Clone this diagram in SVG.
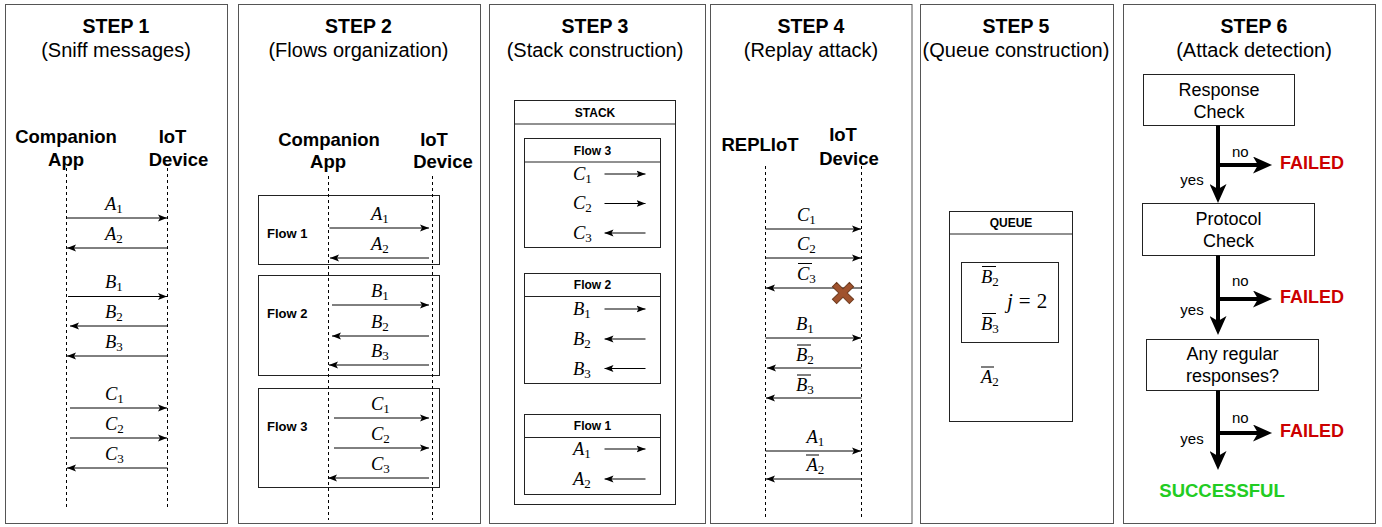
<svg xmlns="http://www.w3.org/2000/svg" width="1382" height="527" viewBox="0 0 1382 527">
<style>
.panel{fill:#fff;stroke:#555;stroke-width:1}
.box{fill:#fff;stroke:#222;stroke-width:1}
.nobox{fill:none;stroke:#222;stroke-width:1}
.t1{font-family:"Liberation Sans",Arial,sans-serif;font-weight:bold;font-size:19.5px;text-anchor:middle;fill:#000}
.t2{font-family:"Liberation Sans",Arial,sans-serif;font-size:20px;text-anchor:middle;fill:#000}
.actor{font-family:"Liberation Sans",Arial,sans-serif;font-weight:bold;font-size:18.5px;text-anchor:middle;fill:#000}
.fl{font-family:"Liberation Sans",Arial,sans-serif;font-weight:bold;font-size:13px;fill:#000}
.hd{font-family:"Liberation Sans",Arial,sans-serif;font-weight:bold;font-size:12px;text-anchor:middle;fill:#000}
.m{font-family:"Liberation Serif","Times New Roman",serif;font-style:italic;font-size:18.5px;fill:#000}
.s{font-style:normal;font-size:13px}
.life{stroke:#000;stroke-width:1;stroke-dasharray:3 3;fill:none}
.msg{stroke:#000;stroke-width:1;fill:none;marker-end:url(#ah)}
.bar{stroke:#000;stroke-width:1}
.bx{font-family:"Liberation Sans",Arial,sans-serif;font-size:18px;text-anchor:middle;fill:#000}
.big{stroke:#000;stroke-width:4;fill:none;marker-end:url(#bh)}
.yn{font-family:"Liberation Sans",Arial,sans-serif;font-size:15px;fill:#000}
.fail{font-family:"Liberation Sans",Arial,sans-serif;font-weight:bold;font-size:18px;fill:#CC0000}
.ok{font-family:"Liberation Sans",Arial,sans-serif;font-weight:bold;font-size:18.5px;fill:#22CC22;text-anchor:middle}
</style>
<defs>
<marker id="ah" markerUnits="userSpaceOnUse" viewBox="0 0 9 8" markerWidth="9" markerHeight="8" refX="9" refY="4" orient="auto"><path d="M0,0.5 L9,4 L0,7.5 L2,4 Z" fill="#000"/></marker>
<marker id="bh" markerUnits="userSpaceOnUse" viewBox="0 0 19 17" markerWidth="19" markerHeight="17" refX="5" refY="8.5" orient="auto"><path d="M0,0 L19,8.5 L0,17 L5,8.5 Z" fill="#000"/></marker>
</defs>

<!-- STEP 1 -->
<g id="step1">
<rect class="panel" x="5.5" y="4.5" width="222" height="519"/>
<text class="t1" x="116" y="33">STEP 1</text>
<text class="t2" x="116" y="57">(Sniff messages)</text>
<text class="actor" x="66" y="143">Companion</text>
<text class="actor" x="66" y="166">App</text>
<text class="actor" x="172.5" y="143">IoT</text>
<text class="actor" x="178.5" y="166">Device</text>
<line class="life" x1="66.5" y1="168" x2="66.5" y2="507"/>
<line class="life" x1="167.5" y1="168" x2="167.5" y2="507"/>
<text class="m" x="105" y="210">A<tspan class="s" dy="3">1</tspan></text>
<text class="m" x="105" y="240">A<tspan class="s" dy="3">2</tspan></text>
<text class="m" x="105" y="288">B<tspan class="s" dy="3">1</tspan></text>
<text class="m" x="105" y="318">B<tspan class="s" dy="3">2</tspan></text>
<text class="m" x="105" y="348">B<tspan class="s" dy="3">3</tspan></text>
<text class="m" x="105" y="400">C<tspan class="s" dy="3">1</tspan></text>
<text class="m" x="105" y="430">C<tspan class="s" dy="3">2</tspan></text>
<text class="m" x="105" y="460">C<tspan class="s" dy="3">3</tspan></text>
</g>

<!-- STEP 2 -->
<g id="step2">
<rect class="panel" x="238.5" y="4.5" width="242" height="519"/>
<text class="t1" x="358.5" y="33">STEP 2</text>
<text class="t2" x="358.5" y="57">(Flows organization)</text>
<text class="actor" x="329" y="146">Companion</text>
<text class="actor" x="328" y="168">App</text>
<text class="actor" x="434" y="146">IoT</text>
<text class="actor" x="443" y="168">Device</text>
<rect class="box" x="258.5" y="195.5" width="181" height="69"/>
<rect class="box" x="258.5" y="275.5" width="181" height="100"/>
<rect class="box" x="258.5" y="388.5" width="181" height="99"/>
<text class="fl" x="267" y="238">Flow 1</text>
<text class="fl" x="267" y="318">Flow 2</text>
<text class="fl" x="267" y="431">Flow 3</text>
<line class="life" x1="328.5" y1="176" x2="328.5" y2="520"/>
<line class="life" x1="432.5" y1="176" x2="432.5" y2="520"/>
<text class="m" x="371" y="220">A<tspan class="s" dy="3">1</tspan></text>
<text class="m" x="371" y="250">A<tspan class="s" dy="3">2</tspan></text>
<text class="m" x="371" y="297">B<tspan class="s" dy="3">1</tspan></text>
<text class="m" x="371" y="328">B<tspan class="s" dy="3">2</tspan></text>
<text class="m" x="371" y="357">B<tspan class="s" dy="3">3</tspan></text>
<text class="m" x="371" y="410">C<tspan class="s" dy="3">1</tspan></text>
<text class="m" x="371" y="440">C<tspan class="s" dy="3">2</tspan></text>
<text class="m" x="371" y="470">C<tspan class="s" dy="3">3</tspan></text>
</g>

<!-- STEP 3 -->
<g id="step3">
<rect class="panel" x="489.5" y="4.5" width="216" height="519"/>
<text class="t1" x="595" y="33">STEP 3</text>
<text class="t2" x="595" y="57">(Stack construction)</text>
<rect class="box" x="514.5" y="100.5" width="161" height="404"/>
<line class="nobox" x1="514.5" y1="124" x2="675.5" y2="124"/>
<text class="hd" x="595" y="116.5">STACK</text>
<rect class="box" x="524.5" y="138.5" width="136" height="109"/>
<line class="nobox" x1="524.5" y1="162" x2="660.5" y2="162"/>
<text class="hd" x="592.5" y="154.5">Flow 3</text>
<text class="m" x="573" y="180">C<tspan class="s" dy="3">1</tspan></text>
<text class="m" x="573" y="209">C<tspan class="s" dy="3">2</tspan></text>
<text class="m" x="573" y="239">C<tspan class="s" dy="3">3</tspan></text>
<rect class="box" x="524.5" y="273.5" width="136" height="110"/>
<line class="nobox" x1="524.5" y1="296.5" x2="660.5" y2="296.5"/>
<text class="hd" x="592.5" y="289">Flow 2</text>
<text class="m" x="573" y="315">B<tspan class="s" dy="3">1</tspan></text>
<text class="m" x="573" y="345">B<tspan class="s" dy="3">2</tspan></text>
<text class="m" x="573" y="374.5">B<tspan class="s" dy="3">3</tspan></text>
<rect class="box" x="524.5" y="414.5" width="136" height="80"/>
<line class="nobox" x1="524.5" y1="437.5" x2="660.5" y2="437.5"/>
<text class="hd" x="592.5" y="430">Flow 1</text>
<text class="m" x="573" y="455">A<tspan class="s" dy="3">1</tspan></text>
<text class="m" x="573" y="485">A<tspan class="s" dy="3">2</tspan></text>
</g>

<!-- STEP 4 -->
<g id="step4">
<rect class="panel" x="710.5" y="4.5" width="201.5" height="519"/>
<text class="t1" x="811" y="33">STEP 4</text>
<text class="t2" x="811" y="57">(Replay attack)</text>
<text class="actor" x="760" y="151">REPLIoT</text>
<text class="actor" x="843" y="141">IoT</text>
<text class="actor" x="849" y="165">Device</text>
<line class="life" x1="765.5" y1="166" x2="765.5" y2="517"/>
<line class="life" x1="861.5" y1="166" x2="861.5" y2="517"/>
<text class="m" x="797" y="221">C<tspan class="s" dy="3">1</tspan></text>
<text class="m" x="797" y="250">C<tspan class="s" dy="3">2</tspan></text>
<text class="m" x="797" y="280">C<tspan class="s" dy="3">3</tspan></text>
<line class="bar" x1="798" y1="263.5" x2="812" y2="263.5"/>
<text class="m" x="796" y="330">B<tspan class="s" dy="3">1</tspan></text>
<text class="m" x="796" y="361">B<tspan class="s" dy="3">2</tspan></text>
<line class="bar" x1="797" y1="345" x2="811" y2="345"/>
<text class="m" x="796" y="391">B<tspan class="s" dy="3">3</tspan></text>
<line class="bar" x1="797" y1="375" x2="811" y2="375"/>
<text class="m" x="806.5" y="443">A<tspan class="s" dy="3">1</tspan></text>
<text class="m" x="806.5" y="471">A<tspan class="s" dy="3">2</tspan></text>
<line class="bar" x1="806" y1="455" x2="819" y2="455"/>
</g>

<!-- STEP 5 -->
<g id="step5">
<rect class="panel" x="920.5" y="4.5" width="193" height="519"/>
<text class="t1" x="1016" y="33">STEP 5</text>
<text class="t2" x="1016" y="57">(Queue construction)</text>
<rect class="box" x="949.5" y="211.5" width="123" height="210"/>
<line class="nobox" x1="949.5" y1="234" x2="1072.5" y2="234"/>
<text class="hd" x="1011" y="227">QUEUE</text>
<rect class="box" x="961.5" y="262.5" width="97" height="80"/>
<text class="m" x="981" y="283">B<tspan class="s" dy="3">2</tspan></text>
<line class="bar" x1="982" y1="266.5" x2="996" y2="266.5"/>
<text class="m" x="1007" y="308" style="font-size:21px">j<tspan style="font-style:normal" dx="6">=</tspan><tspan style="font-style:normal" dx="6">2</tspan></text>
<text class="m" x="981" y="330">B<tspan class="s" dy="3">3</tspan></text>
<line class="bar" x1="982" y1="313.5" x2="996" y2="313.5"/>
<text class="m" x="981" y="383">A<tspan class="s" dy="3">2</tspan></text>
<line class="bar" x1="981" y1="367" x2="994" y2="367"/>
</g>

<!-- STEP 6 -->
<g id="step6">
<rect class="panel" x="1123.5" y="4.5" width="252" height="519"/>
<text class="t1" x="1254" y="33">STEP 6</text>
<text class="t2" x="1254" y="57">(Attack detection)</text>
</g>
<g id="response-check">
<rect class="box" x="1143.5" y="74.5" width="151" height="51"/>
<text class="bx" x="1219" y="95.5">Response</text>
<text class="bx" x="1219" y="117.5">Check</text>
</g>
<g id="protocol-check">
<rect class="box" x="1142.5" y="203.5" width="172" height="52"/>
<text class="bx" x="1228.5" y="224.5">Protocol</text>
<text class="bx" x="1228.5" y="246.5">Check</text>
</g>
<g id="regular-check">
<rect class="box" x="1146.5" y="339.5" width="172" height="51"/>
<text class="bx" x="1232.5" y="360">Any regular</text>
<text class="bx" x="1232.5" y="382">responses?</text>
</g>
<g id="failed1"><text class="fail" x="1280" y="169">FAILED</text></g>
<g id="failed2"><text class="fail" x="1280" y="303">FAILED</text></g>
<g id="failed3"><text class="fail" x="1280" y="437">FAILED</text></g>
<g id="successful"><text class="ok" x="1222" y="497">SUCCESSFUL</text></g>

<!-- connectors -->
<g id="connectors">
<line class="msg" x1="66.5" y1="218" x2="167" y2="218"/>
<line class="msg" x1="167.5" y1="248" x2="67" y2="248"/>
<line class="msg" x1="68" y1="296.5" x2="167" y2="296.5"/>
<line class="msg" x1="167.5" y1="326" x2="70" y2="326"/>
<line class="msg" x1="167.5" y1="356" x2="67" y2="356"/>
<line class="msg" x1="70" y1="408" x2="167" y2="408"/>
<line class="msg" x1="70" y1="438" x2="167" y2="438"/>
<line class="msg" x1="167.5" y1="468" x2="67" y2="468"/>
<line class="msg" x1="329.5" y1="228" x2="429" y2="228"/>
<line class="msg" x1="429" y1="258" x2="330" y2="258"/>
<line class="msg" x1="332" y1="305" x2="429" y2="305"/>
<line class="msg" x1="429" y1="336" x2="332" y2="336"/>
<line class="msg" x1="429" y1="365" x2="329" y2="365"/>
<line class="msg" x1="334" y1="418" x2="429" y2="418"/>
<line class="msg" x1="334" y1="448" x2="429" y2="448"/>
<line class="msg" x1="429" y1="478" x2="328" y2="478"/>
<line class="msg" x1="604.5" y1="174" x2="645.5" y2="174"/>
<line class="msg" x1="604.5" y1="203.5" x2="645.5" y2="203.5"/>
<line class="msg" x1="645.5" y1="233" x2="604.5" y2="233"/>
<line class="msg" x1="604.5" y1="309" x2="645.5" y2="309"/>
<line class="msg" x1="645.5" y1="339" x2="604.5" y2="339"/>
<line class="msg" x1="645.5" y1="368.5" x2="604.5" y2="368.5"/>
<line class="msg" x1="604.5" y1="449" x2="645.5" y2="449"/>
<line class="msg" x1="645.5" y1="479" x2="604.5" y2="479"/>
<line class="msg" x1="765.5" y1="229" x2="861" y2="229"/>
<line class="msg" x1="765.5" y1="258" x2="861" y2="258"/>
<line class="msg" x1="861.5" y1="288" x2="766" y2="288"/>
<line class="msg" x1="765.5" y1="338" x2="861" y2="338"/>
<line class="msg" x1="861.5" y1="368" x2="767" y2="368"/>
<line class="msg" x1="861.5" y1="398" x2="766" y2="398"/>
<line class="msg" x1="765.5" y1="451" x2="861" y2="451"/>
<line class="msg" x1="861.5" y1="479" x2="766" y2="479"/>
<g transform="translate(843,293) rotate(45)"><path d="M-3,-12 H3 V-3 H12 V3 H3 V12 H-3 V3 H-12 V-3 H-3 Z" fill="#A0522D" stroke="#6D3A1E" stroke-width="1"/></g>
<line class="big" x1="1218" y1="125.5" x2="1218" y2="189"/>
<line class="big" x1="1218" y1="165" x2="1258" y2="165"/>
<line class="big" x1="1218" y1="255.5" x2="1218" y2="321"/>
<line class="big" x1="1218" y1="299" x2="1258" y2="299"/>
<line class="big" x1="1218" y1="390.5" x2="1218" y2="456"/>
<line class="big" x1="1218" y1="433" x2="1258" y2="433"/>
</g>
<g id="branch-labels">
<text class="yn" x="1232" y="157">no</text>
<text class="yn" x="1192" y="185" text-anchor="middle">yes</text>
<text class="yn" x="1232" y="286">no</text>
<text class="yn" x="1192" y="315" text-anchor="middle">yes</text>
<text class="yn" x="1232" y="422.5">no</text>
<text class="yn" x="1192" y="443.5" text-anchor="middle">yes</text>
</g>
</svg>
